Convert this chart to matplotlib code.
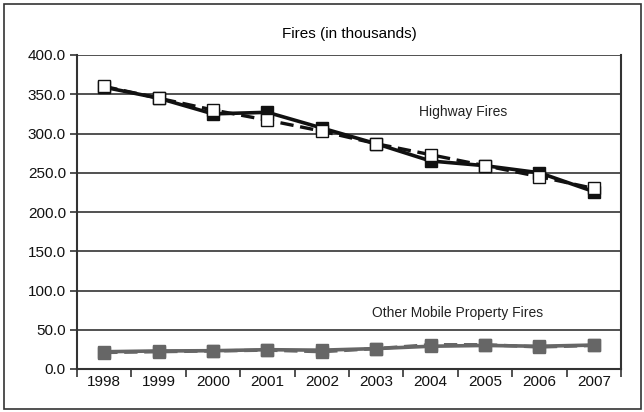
import matplotlib
matplotlib.use('Agg')
import matplotlib.pyplot as plt
from matplotlib.patches import Rectangle

# Data (thousands of fires)
years = ['1998', '1999', '2000', '2001', '2002', '2003', '2004', '2005', '2006', '2007']
highway_solid = [359, 345, 325, 327, 307, 287, 265, 259, 250, 226]
highway_dashed = [360, 345, 330, 317, 303, 287, 273, 259, 245, 230]
other_solid = [22, 23, 23.3, 24.6, 24, 26, 29, 30, 29, 30.5]
other_dashed = [21, 22, 23, 24, 22, 26, 31, 31, 28, 30]
yticks = [0, 50, 100, 150, 200, 250, 300, 350, 400]

plt.rcParams['font.family'] = ['Liberation Sans', 'DejaVu Sans']

fig = plt.figure(figsize=(6.44, 4.12), dpi=100)
ax = fig.add_axes([77 / 644, 1 - 369 / 412, (621 - 77) / 644, (369 - 55) / 412])

# outer frame round the whole figure
fig.patches.append(Rectangle((4 / 644, 3 / 412), 637 / 644, 405 / 412, transform=fig.transFigure,
                             fill=False, edgecolor='#333333', linewidth=1.2))

x = list(range(len(years)))
ax.plot(x, highway_dashed, color='#111111', linestyle=(0, (4, 2)), linewidth=2.4,
        marker='s', markersize=8, markerfacecolor='white', markeredgecolor='#111111', zorder=3)
ax.plot(x, highway_solid, color='#111111', linewidth=2.6,
        marker='s', markersize=8, markerfacecolor='#111111', markeredgecolor='#111111', zorder=2)
ax.plot(x, other_dashed, color='#666666', linestyle=(0, (4, 2)), linewidth=2.4,
        marker='s', markersize=8, markerfacecolor='#666666', markeredgecolor='#666666', zorder=2)
ax.plot(x, other_solid, color='#666666', linewidth=2.6,
        marker='s', markersize=8, markerfacecolor='#666666', markeredgecolor='#666666', zorder=3)

ax.set_xlim(-0.5, len(years) - 0.5)
ax.set_ylim(0, 400)
ax.set_yticks(yticks)
ax.set_yticklabels([f'{v:.1f}' for v in yticks], fontsize=11, color='#111111')
ax.set_xticks(x)
ax.set_xticklabels(years, fontsize=11, color='#111111')
ax.set_xticks([i - 0.5 for i in range(len(years) + 1)], minor=True)
ax.tick_params(axis='x', which='major', length=0, pad=4)
ax.tick_params(axis='x', which='minor', length=6, width=1.2, color='#333333', direction='out')
ax.tick_params(axis='y', length=5, width=1.2, color='#333333', direction='out', pad=3)

ax.grid(axis='y', color='#333333', linewidth=1.2)
ax.set_axisbelow(True)
for side in ['left', 'right', 'bottom']:
    ax.spines[side].set_color('#333333')
    ax.spines[side].set_linewidth(1.5)
ax.spines['top'].set_visible(False)

ax.set_title('Fires (in thousands)', fontsize=11, color='#000000', pad=12)
ax.text(6.6, 327, 'Highway Fires', fontsize=10, ha='center', va='center', color='#222222')
ax.text(6.5, 71, 'Other Mobile Property Fires', fontsize=10, ha='center', va='center', color='#222222')

fig.savefig('out.png', dpi=100)
